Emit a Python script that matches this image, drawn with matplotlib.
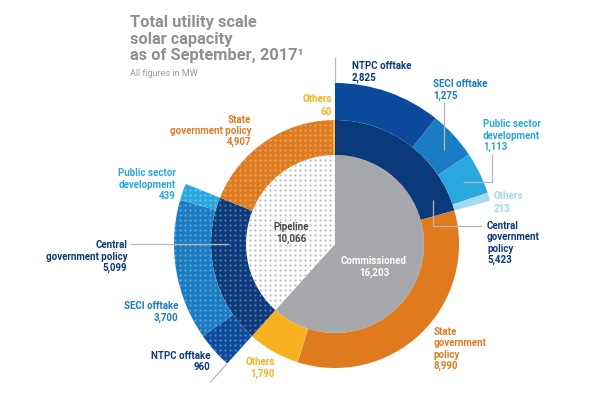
import numpy as np
import matplotlib.pyplot as plt

W, H = 600, 394

# inner ring
status = ['Commissioned', 'Pipeline']
status_mw = [16203, 10066]

# middle ring: policy split, commissioned part first, then pipeline part
policy = ['Central\ngovernment\npolicy', 'State\ngovernment\npolicy', 'Others',
          'Central\ngovernment policy', 'State\ngovernment policy', 'Others']
policy_mw = [5423, 8990, 1790, 5099, 4907, 60]

# outer ring: break-down of central government policy
comm_central = ['NTPC offtake', 'SECI offtake', 'Public sector\ndevelopment', 'Others']
comm_central_mw = [2825, 1275, 1113, 213]
pipe_central = ['NTPC offtake', 'SECI offtake', 'Public sector\ndevelopment']
pipe_central_mw = [960, 3700, 439]

GRAY = '#a7a8ab'
NAVY = '#0b3a7b'
NTPC = '#0c4b9b'
SECI = '#1a7cc2'
PUB = '#29a8df'
OTH_B = '#a3d8f1'
ORANGE = '#e07a1f'
YELLOW = '#f8b220'
LINE = '#b5b7b9'

fig = plt.figure(figsize=(6, 3.94), dpi=100)
ax = fig.add_axes([0, 0, 1, 1])

cx, cy = 335, H - 244
r0, r1, r2 = 89, 124, 161

pie_kw = dict(center=(cx, cy), startangle=90, counterclock=False)

inner, _ = ax.pie(status_mw, radius=r0, colors=[GRAY, 'white'],
                  wedgeprops=dict(linewidth=0), **pie_kw)

mid_colors = [NAVY, ORANGE, YELLOW, NAVY, ORANGE, YELLOW]
middle, _ = ax.pie(policy_mw, radius=r1, colors=mid_colors,
                   wedgeprops=dict(width=r1 - r0, linewidth=0), **pie_kw)

# outer ring only covers central policy; fill the rest with empty wedges
gap_a = sum(policy_mw[:3]) - sum(comm_central_mw)
gap_b = sum(policy_mw[4:])
outer_mw = comm_central_mw + [gap_a] + pipe_central_mw + [gap_b]
outer_colors = [NTPC, SECI, PUB, OTH_B, 'none', NTPC, SECI, PUB, 'none']
outer, _ = ax.pie(outer_mw, radius=r2, colors=outer_colors,
                  wedgeprops=dict(width=r2 - r1, linewidth=0), **pie_kw)

# dotted texture on the pipeline half
gx, gy = np.meshgrid(np.arange(150, 345, 5.0), np.arange(70, 400, 5.0))
gx, gy = gx.ravel(), H - gy.ravel()
pipe_wedges = [inner[1]] + middle[3:] + outer[5:8]
for i, w in enumerate(pipe_wedges):
    if i == 0:
        sc = ax.scatter(gx, gy, s=2.6, c='#bcbcbc', linewidths=0)
    else:
        sc = ax.scatter(gx, gy, s=2.6, c='white', alpha=0.33, linewidths=0)
    sc.set_clip_path(w)

# boundary lines between commissioned and pipeline
th_b = np.deg2rad(90 - 360 * status_mw[0] / sum(status_mw))
for th in [np.pi / 2, th_b]:
    rr = np.array([r2 + 1, r2 + 25])
    ax.plot(cx + rr * np.cos(th), cy + rr * np.sin(th), color=LINE, lw=0.9)

# leader lines
def leader(px, py):
    ax.plot(px, [H - v for v in py], color=LINE, lw=0.9, solid_capstyle='butt')

leader([444, 444], [102, 150])
leader([492, 492, 463], [154, 182, 182])
leader([433, 433, 482], [200, 226, 226])
leader([130, 229], [244, 244])


def label(x, y, lines, color, ha='left', size=7, step=11.5):
    for i, s in enumerate(lines):
        ax.text(x, H - (y + i * step), s, color=color, ha=ha, va='baseline',
                fontsize=size, fontweight='bold', family='Roboto')


def lines_of(name, mw):
    return name.split('\n') + [f'{mw:,}']


# title
label(130, 27, ['Total utility scale', 'solar capacity',
                'as of September, 2017\u00b9'], '#8d8f91', size=11.8, step=16.5)
ax.text(130, H - 76, 'All figures in MW', color='#9a9c9e', fontsize=6.5,
        family='Roboto', va='baseline')

# centre labels
label(291, 230, lines_of(status[1], status_mw[1]), '#4a4a4a', ha='center')
label(374, 264, lines_of(status[0], status_mw[0]), 'white', ha='center')

# commissioned side
label(352, 69, lines_of(comm_central[0], comm_central_mw[0]), NAVY)
label(433, 87, lines_of(comm_central[1], comm_central_mw[1]), SECI)
label(483, 127, lines_of(comm_central[2], comm_central_mw[2]), PUB)
label(494, 199, lines_of(comm_central[3], comm_central_mw[3]), OTH_B, step=12.5)
label(487, 229, lines_of(policy[0], policy_mw[0]), NAVY, step=11.3)
label(434, 335, lines_of(policy[1], policy_mw[1]), ORANGE, step=11.3)
label(275, 365, lines_of(policy[2], policy_mw[2]), YELLOW, ha='right', step=11.5)

# pipeline side
label(210, 359, lines_of(pipe_central[0], pipe_central_mw[0]), NAVY, ha='right')
label(178, 309, lines_of(pipe_central[1], pipe_central_mw[1]), SECI, ha='right')
label(176, 176, lines_of(pipe_central[2], pipe_central_mw[2]), PUB, ha='right')
label(127, 248, lines_of(policy[3], policy_mw[3]), NAVY, ha='right')
label(251, 123, lines_of(policy[4], policy_mw[4]), ORANGE, ha='right', step=11)
label(332, 102, lines_of(policy[5], policy_mw[5]), YELLOW, ha='right', step=13)

ax.set_xlim(0, W)
ax.set_ylim(0, H)
ax.axis('off')

fig.savefig('out.png', dpi=100)
